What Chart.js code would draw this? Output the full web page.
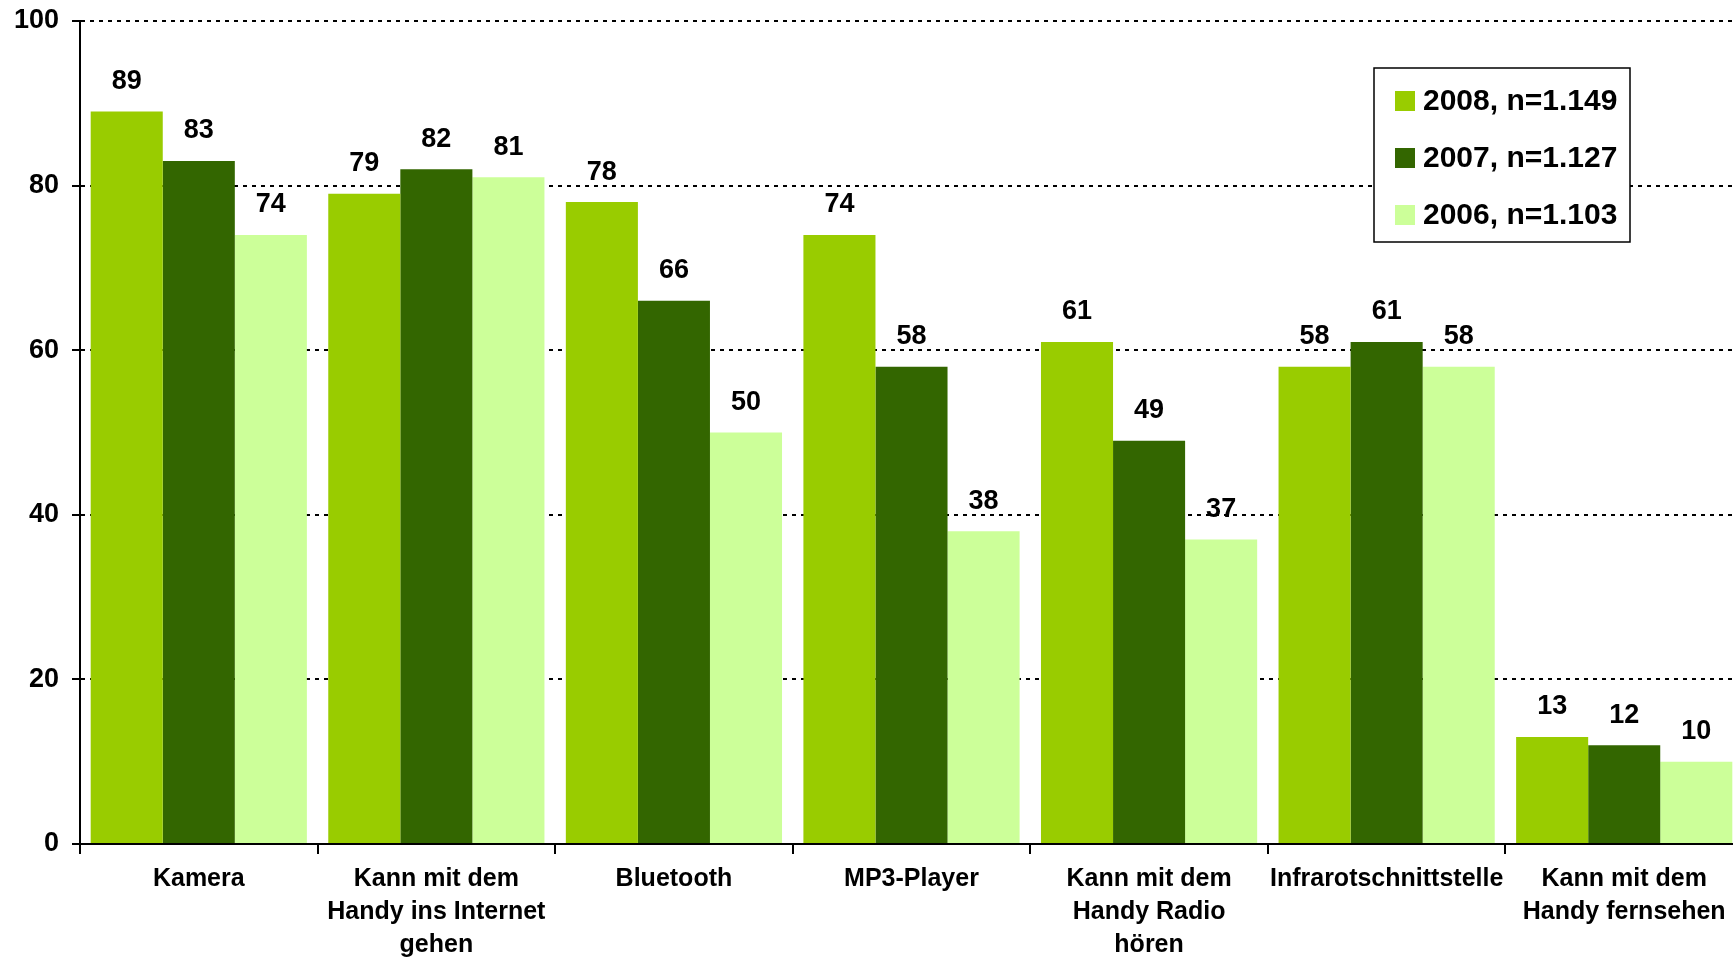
<!DOCTYPE html>
<html>
<head>
<meta charset="utf-8">
<style>
  html, body { margin: 0; padding: 0; background: #ffffff; overflow: hidden; }
  #wrap { width: 1750px; height: 958px; }
</style>
</head>
<body>
<div id="wrap"><canvas id="myChart" width="1750" height="958"></canvas></div>

<script src="https://cdn.jsdelivr.net/npm/chart.js/dist/chart.umd.min.js"></script>
<script>
// data
const categories = [
  'Kamera',
  ['Kann mit dem', 'Handy ins Internet', 'gehen'],
  'Bluetooth',
  'MP3-Player',
  ['Kann mit dem', 'Handy Radio', 'hören'],
  'Infrarotschnittstelle',
  ['Kann mit dem', 'Handy fernsehen']
];
const seriesNames = ['2008, n=1.149', '2007, n=1.127', '2006, n=1.103'];
const values2008 = [89, 79, 78, 74, 61, 58, 13];
const values2007 = [83, 82, 66, 58, 49, 61, 12];
const values2006 = [74, 81, 50, 38, 37, 58, 10];
const yTicks = [0, 20, 40, 60, 80, 100];

const colors = ['#99cc00', '#336600', '#ccff99'];
const fontMain = "'Liberation Sans', Arial, sans-serif";

// value labels above the bars
const barLabels = {
  id: 'barLabels',
  afterDatasetsDraw(chart) {
    const ctx = chart.ctx;
    ctx.save();
    ctx.fillStyle = '#000';
    ctx.font = 'bold 27px ' + fontMain;
    ctx.textAlign = 'center';
    ctx.textBaseline = 'middle';
    chart.data.datasets.forEach((ds, i) => {
      chart.getDatasetMeta(i).data.forEach((bar, j) => {
        ctx.fillText(ds.data[j], bar.x, bar.y - 30);
      });
    });
    ctx.restore();
  }
};

// boxed legend inside the plot
const boxLegend = {
  id: 'boxLegend',
  afterDraw(chart) {
    const ctx = chart.ctx;
    const x = 1374, y = 68, w = 256, h = 174;
    ctx.save();
    ctx.fillStyle = '#fff';
    ctx.fillRect(x, y, w, h);
    ctx.strokeStyle = '#000';
    ctx.lineWidth = 1.5;
    ctx.strokeRect(x, y, w, h);
    ctx.font = 'bold 30px ' + fontMain;
    ctx.textBaseline = 'middle';
    chart.data.datasets.forEach((ds, i) => {
      const cy = 101 + i * 57;
      ctx.fillStyle = ds.backgroundColor;
      ctx.fillRect(1395, cy - 10, 20, 20);
      ctx.fillStyle = '#000';
      ctx.fillText(ds.label, 1423, cy + 1);
    });
    ctx.restore();
  }
};

const data = {
  labels: categories,
  datasets: [
    { label: seriesNames[0], data: values2008, backgroundColor: colors[0] },
    { label: seriesNames[1], data: values2007, backgroundColor: colors[1] },
    { label: seriesNames[2], data: values2006, backgroundColor: colors[2] }
  ]
};

const config = {
  type: 'bar',
  data,
  options: {
    responsive: false,
    animation: false,
    devicePixelRatio: 1,
    layout: { padding: { top: 21, right: 7, left: 0, bottom: 0 } },
    datasets: {
      bar: { categoryPercentage: 0.91, barPercentage: 1.0, borderWidth: 0 }
    },
    plugins: {
      legend: { display: false },
      tooltip: { enabled: false }
    },
    scales: {
      x: {
        offset: true,
        afterFit: (scale) => { scale.height = 114; },
        grid: {
          display: true,
          drawOnChartArea: false,
          drawTicks: true,
          tickLength: 10,
          color: '#000',
          lineWidth: 2,
          offset: true
        },
        border: { display: true, color: '#000', width: 2 },
        ticks: {
          color: '#000',
          autoSkip: false,
          maxRotation: 0,
          padding: 9,
          font: { family: fontMain, size: 25, weight: 'bold', lineHeight: 1.32 }
        }
      },
      y: {
        min: 0,
        max: 100,
        afterFit: (scale) => {
          scale.width = 80;
          scale.paddingTop = 0;
          scale.paddingBottom = 0;
        },
        afterBuildTicks: (scale) => { scale.ticks = yTicks.map(v => ({ value: v })); },
        grid: {
          color: '#000',
          lineWidth: 2,
          drawTicks: true,
          tickLength: 8,
          tickColor: '#000',
          tickWidth: 2,
          tickBorderDash: []
        },
        border: { display: true, color: '#000', width: 2, dash: [4, 5] },
        ticks: {
          color: '#000',
          padding: 13,
          font: { family: fontMain, size: 27, weight: 'bold' }
        }
      }
    }
  },
  plugins: [barLabels, boxLegend]
};

const myChart = new Chart(document.getElementById('myChart'), config);
</script>
</body>
</html>
